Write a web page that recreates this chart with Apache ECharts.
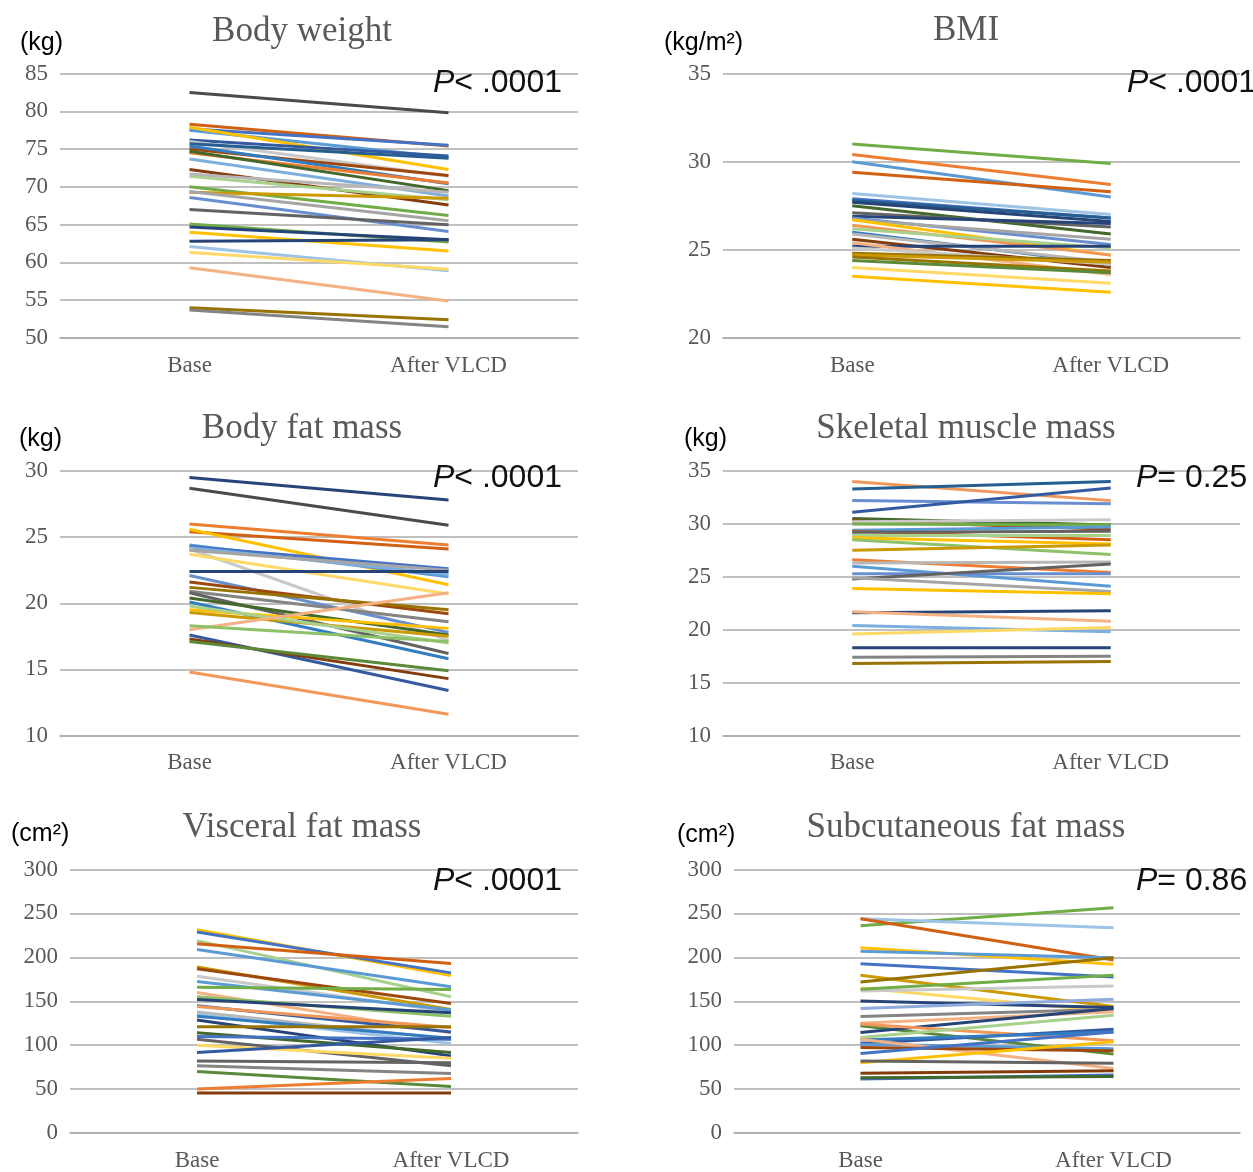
<!DOCTYPE html>
<html>
<head>
<meta charset="utf-8">
<script src="https://cdn.jsdelivr.net/npm/echarts@6/dist/echarts.min.js"></script>
<style>html,body{margin:0;padding:0;background:#fff}#c{width:1253px;height:1172px}</style>
</head>
<body>
<div id="c"></div>
<script>
// ---------- data ----------
const categories = ['Base', 'After VLCD'];

const titles = ['Body weight', 'BMI', 'Body fat mass', 'Skeletal muscle mass', 'Visceral fat mass', 'Subcutaneous fat mass'];
const units = ['(kg)', '(kg/m\u00B2)', '(kg)', '(kg)', '(cm\u00B2)', '(cm\u00B2)'];
const pTexts = ['< .0001', '< .0001', '< .0001', '= 0.25', '< .0001', '= 0.86'];
const yMins = [50, 20, 10, 10, 0, 0];
const yMaxs = [85, 35, 30, 35, 300, 300];
const ySteps = [5, 5, 5, 5, 50, 50];

const bwBase  = [82.5, 78.3, 77.7, 77.5, 77.9, 76.2, 76.0, 75.7, 75.0, 75.4, 74.5, 74.7, 73.7, 72.3, 71.4, 71.7, 70.0, 69.3, 69.4, 68.6, 67.0, 65.1, 64.7, 64.0, 62.8, 62.1, 61.3, 59.3, 54.0, 53.7];
const bwAfter = [79.8, 75.4, 75.5, 73.9, 72.3, 74.1, 71.4, 73.8, 71.5, 70.4, 70.5, 69.5, 68.8, 67.6, 68.3, 69.3, 66.2, 68.5, 65.5, 64.1, 65.0, 62.7, 63.0, 61.5, 63.0, 58.9, 59.1, 54.9, 52.4, 51.5];

const bmiBase  = [31.0, 30.4, 30.0, 29.4, 28.2, 27.9, 27.8, 27.7, 27.5, 27.1, 26.9, 26.8, 26.7, 26.7, 26.4, 26.2, 26.0, 25.9, 25.6, 25.2, 25.4, 25.1, 24.8, 24.7, 24.6, 24.4, 24.0, 23.5];
const bmiAfter = [29.9, 28.7, 28.0, 28.3, 27.0, 26.8, 26.8, 26.6, 25.9, 26.3, 26.5, 25.3, 25.6, 24.7, 24.7, 25.1, 24.2, 24.3, 24.0, 25.2, 23.6, 24.2, 24.4, 24.3, 23.8, 23.7, 23.1, 22.6];

const fatBase  = [29.5, 28.7, 26.0, 25.4, 25.6, 24.4, 24.3, 24.2, 24.1, 23.7, 24.0, 22.4, 22.1, 21.6, 21.2, 20.9, 20.8, 20.4, 20.1, 19.5, 19.3, 19.8, 18.0, 18.3, 17.6, 17.3, 17.1, 14.8];
const fatAfter = [27.8, 25.9, 24.4, 24.1, 21.4, 22.0, 22.6, 22.2, 17.2, 20.7, 22.5, 22.4, 17.8, 19.2, 19.5, 18.6, 16.2, 17.6, 15.8, 18.1, 17.5, 17.0, 20.8, 17.1, 13.4, 14.3, 14.9, 11.6];

const smmBase  = [34.0, 33.3, 32.2, 31.1, 30.5, 30.3, 30.2, 30.0, 29.4, 29.3, 29.2, 28.9, 28.7, 28.5, 27.5, 26.6, 26.3, 26.0, 25.3, 24.8, 24.9, 23.9, 21.6, 21.7, 20.4, 19.6, 18.3, 17.4, 16.8];
const smmAfter = [32.2, 34.0, 31.9, 33.4, 29.9, 29.5, 30.4, 29.9, 29.7, 28.5, 29.3, 28.9, 28.1, 27.1, 28.0, 25.4, 26.4, 24.1, 25.3, 26.2, 23.6, 23.4, 21.8, 20.8, 19.8, 20.2, 18.3, 17.5, 17.0];

const vfaBase  = [231.5, 228.8, 219, 215.6, 208.8, 189, 186.9, 178.5, 172.5, 166, 160, 155, 152, 145, 144, 137.7, 135, 133, 128.6, 121, 114, 110, 106.7, 100, 91.6, 82, 76.5, 70, 50, 45.5];
const vfaAfter = [179.3, 182.3, 155.1, 192.9, 166.4, 140.7, 147.5, 138, 140, 163.4, 114, 133, 137, 115, 120, 106.7, 102, 108, 87.8, 121, 91.6, 106.7, 76.5, 85, 108.6, 80, 67.8, 53, 62, 45.5];

const sfaBase  = [236, 244, 244, 211, 206.8, 192.8, 179.5, 172, 165, 161.7, 163.6, 150.4, 141.7, 132.6, 125, 122, 114.4, 124, 108.7, 102, 106, 101, 106.8, 97.3, 80, 82, 90.5, 68, 61.4, 63];
const sfaAfter = [256.4, 233.7, 197, 192, 199.6, 177.7, 144, 199.6, 138, 167.4, 179.5, 142.8, 152.3, 141, 138, 89.8, 141.7, 105, 134, 118, 115, 96, 73.5, 93.6, 103.8, 79.5, 115, 70.8, 66, 64.4];

// ---------- styles ----------
const K = {
  blue:'#4472C4', orange:'#ED7D31', gray:'#A5A5A5', gold:'#FFC000', lblue:'#5B9BD5', green:'#70AD47',
  navy:'#264478', dred:'#9E480E', dgray:'#636363', brown:'#997300', dblue:'#255E91', dgreen:'#43682B',
  blue2:'#698ED0', orange2:'#F1975A', gray2:'#B7B7B7', gold2:'#FFCD33', lblue2:'#7CAFDD', green2:'#8CC168',
  blue3:'#335AA1', orange3:'#D26012', gray3:'#848484', gold3:'#CC9A00', lblue3:'#327DC2', green3:'#5A8A39',
  blue4:'#8FAADC', salmon:'#F4B183', gray4:'#C9C9C9', gold4:'#FFD966', lblue4:'#9DC3E6', green4:'#A9D18E',
  dark:'#4A4A4A', brownred:'#843C0C'
};
const bwColors  = ['dark','orange3','blue','lblue','gold','blue3','gray4','dblue','dred','lblue3','orange','dgreen','lblue2','brownred','green4','gray2','green','gold3','gray','blue2','dgray','green','navy','gold','navy','lblue4','gold4','salmon','brown','gray3'];
const bmiColors = ['green','orange','lblue','orange3','lblue4','blue','dblue','navy','dgreen','dgray','navy','blue2','gray','gold','orange2','green4','lblue3','gray2','brownred','navy','salmon','gray4','brown','gold3','brown','green3','gold4','gold'];
const fatColors = ['navy','dark','orange','orange3','gold','lblue','blue','lblue2','gray4','gold4','gray','navy','blue2','dred','brown','gray3','dgray','dgreen','lblue3','gold','gold3','green4','salmon','green2','blue3','brownred','green3','orange2'];
const smmColors = ['orange2','dblue','blue2','blue3','dgreen','dred','gray4','green','lblue','orange3','dgray','green4','gold','green2','gold3','orange','gray2','lblue','blue2','dgray','gray','gold','navy','salmon','lblue2','gold4','navy','gray3','brown'];
const vfaColors = ['gold','blue','green4','orange3','lblue','gold3','dred','gray4','lblue','green','salmon','green2','navy','blue3','orange2','gray2','lblue4','lblue3','navy','brown','dgreen','blue','dgray','gold4','blue3','dgray','gray3','green3','orange','brownred'];
const sfaColors = ['green','lblue4','orange3','gold','lblue','blue','gold3','brown','gold4','gray4','green','navy','blue4','gray3','salmon','green3','navy','orange2','green4','blue3','lblue3','lblue','salmon','dred','gold','dgray','blue','brownred','blue','dgreen'];

const baseSets  = [bwBase, bmiBase, fatBase, smmBase, vfaBase, sfaBase];
const afterSets = [bwAfter, bmiAfter, fatAfter, smmAfter, vfaAfter, sfaAfter];
const colorSets = [bwColors, bmiColors, fatColors, smmColors, vfaColors, sfaColors];

// ---------- layout ----------
const grids = [
  {left: 60,  top: 73.5,  width: 518, height: 264.5},
  {left: 723, top: 73.5,  width: 517, height: 264.5},
  {left: 60,  top: 471,   width: 518, height: 264.5},
  {left: 723, top: 471,   width: 517, height: 264.5},
  {left: 70,  top: 869.5, width: 508, height: 265},
  {left: 734, top: 869.5, width: 506, height: 265}
];
const titlePos = [[302, 32], [966, 31], [302, 429], [966, 429], [302, 828], [966, 828]];
const unitPos  = [[20, 43], [664, 43], [19, 439], [684, 439], [11, 834], [677, 835]];
const pPos     = [[433, 83], [1127, 83], [433, 478], [1136, 478], [433, 881], [1136, 881]];

const SERIF = '"Liberation Serif", "Times New Roman", serif';
const SANS = '"Liberation Sans", Arial, sans-serif';
const GRIDC = '#ABABAB';

const xAxis = [], yAxis = [], series = [], graphic = [];
grids.forEach((g, i) => {
  xAxis.push({
    gridIndex: i, type: 'category', data: categories, boundaryGap: true,
    axisLine: {show: true, lineStyle: {color: GRIDC, width: 1.5}},
    axisTick: {show: false},
    axisLabel: {fontFamily: SERIF, fontSize: 23, color: '#595959', margin: 16}
  });
  yAxis.push({
    gridIndex: i, type: 'value', min: yMins[i], max: yMaxs[i], interval: ySteps[i],
    axisLine: {show: false}, axisTick: {show: false},
    splitLine: {show: true, lineStyle: {color: GRIDC, width: 1.5}},
    axisLabel: {fontFamily: SERIF, fontSize: 23, color: '#595959', margin: 12}
  });
  baseSets[i].forEach((b, j) => {
    series.push({
      type: 'line', xAxisIndex: i, yAxisIndex: i,
      data: [b, afterSets[i][j]],
      symbol: 'none', silent: true, z: 3,
      lineStyle: {width: 3, color: K[colorSets[i][j]]}
    });
  });
  graphic.push({
    type: 'text', x: titlePos[i][0], y: titlePos[i][1], z: 10,
    style: {text: titles[i], fontFamily: SERIF, fontSize: 35, fill: '#595959', textAlign: 'center', textVerticalAlign: 'middle'}
  });
  graphic.push({
    type: 'text', x: unitPos[i][0], y: unitPos[i][1], z: 10,
    style: {text: units[i], fontFamily: SANS, fontSize: 25, fill: '#000', textAlign: 'left', textVerticalAlign: 'middle'}
  });
  graphic.push({
    type: 'text', x: pPos[i][0], y: pPos[i][1], z: 10,
    style: {
      text: '{i|P}{n|' + pTexts[i] + '}',
      textAlign: 'left', textVerticalAlign: 'middle',
      rich: {
        i: {fontFamily: SANS, fontSize: 32, fontStyle: 'italic', fill: '#111', color: '#111'},
        n: {fontFamily: SANS, fontSize: 32, fill: '#111', color: '#111'}
      }
    }
  });
});

const chart = echarts.init(document.getElementById('c'), null, {renderer: 'canvas'});
chart.setOption({
  animation: false,
  backgroundColor: '#fff',
  grid: grids.map(g => Object.assign({containLabel: false}, g)),
  xAxis, yAxis, series, graphic
});
</script>
</body>
</html>
